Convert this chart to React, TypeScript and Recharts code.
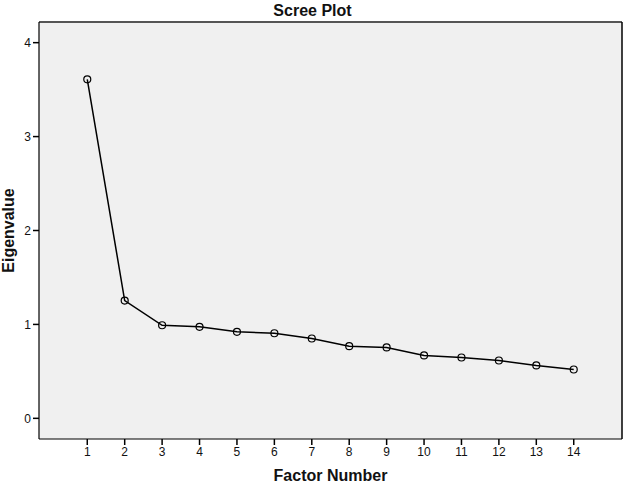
import React from 'react';
import { LineChart, Line, XAxis, YAxis, CartesianGrid, Label, ReferenceLine } from 'recharts';

// scree plot values
const factorNumbers = [1, 2, 3, 4, 5, 6, 7, 8, 9, 10, 11, 12, 13, 14];
const eigenvalues = [3.61, 1.254, 0.991, 0.974, 0.921, 0.906, 0.85, 0.768, 0.755, 0.67, 0.648, 0.616, 0.563, 0.52];
const yTicks = [0, 1, 2, 3, 4];

const X_DOMAIN: [number, number] = [-0.29, 15.29];
const Y_DOMAIN: [number, number] = [-0.22, 4.22];

const data = factorNumbers.map((f, i) => ({ factor: f, eigen: eigenvalues[i] }));

const FONT = '"Liberation Sans", Arial, sans-serif';

const YTitle = ({ viewBox }: any) => {
  const cx = 8;
  const cy = viewBox.y + viewBox.height / 2;
  return (
    <text x={cx} y={cy} transform={`rotate(-90, ${cx}, ${cy})`} textAnchor="middle" dominantBaseline="central"
      fontFamily={FONT} fontWeight="bold" fontSize={16} fill="#111">
      Eigenvalue
    </text>
  );
};

export default function App() {
  return (
    <div style={{ position: 'absolute', left: 0, top: 0, width: 625, height: 485, background: '#fff', fontFamily: FONT }}>
      <div style={{ position: 'absolute', left: 0, top: 0, width: 625, textAlign: 'center', fontSize: 16, fontWeight: 'bold', lineHeight: '22px', color: '#111' }}>
        Scree Plot
      </div>
      <LineChart width={625} height={485} data={data} margin={{ top: 22, right: 3, left: 0, bottom: 0 }}>
        <CartesianGrid fill="#f0f0f0" fillOpacity={1} horizontal={false} vertical={false} />
        <XAxis
          dataKey="factor"
          type="number"
          domain={X_DOMAIN}
          ticks={factorNumbers}
          allowDataOverflow
          height={46}
          tickSize={6}
          tick={{ fill: '#111', fontSize: 12, fontFamily: FONT }}
          tickLine={{ stroke: '#000', strokeWidth: 1.5 }}
          axisLine={{ stroke: '#000', strokeWidth: 1.2 }}
        >
          <Label value="Factor Number" position="insideBottom" offset={4}
            style={{ fontFamily: FONT, fontWeight: 'bold', fontSize: 16, fill: '#111' }} />
        </XAxis>
        <YAxis
          type="number"
          domain={Y_DOMAIN}
          ticks={yTicks}
          allowDataOverflow
          width={39}
          tickSize={6}
          tick={{ fill: '#111', fontSize: 12, fontFamily: FONT }}
          tickLine={{ stroke: '#000', strokeWidth: 1.5 }}
          axisLine={{ stroke: '#000', strokeWidth: 1.2 }}
        >
          <Label content={<YTitle />} />
        </YAxis>
        {/* frame: top edge is grey, right edge black */}
        <ReferenceLine y={Y_DOMAIN[1]} stroke="#555" strokeWidth={2} />
        <ReferenceLine x={X_DOMAIN[1]} stroke="#000" strokeWidth={1.5} />
        <Line
          dataKey="eigen"
          stroke="#000"
          strokeWidth={1.5}
          dot={{ r: 3.5, stroke: '#000', strokeWidth: 1.2, fill: 'none' }}
          isAnimationActive={false}
        />
      </LineChart>
    </div>
  );
}
